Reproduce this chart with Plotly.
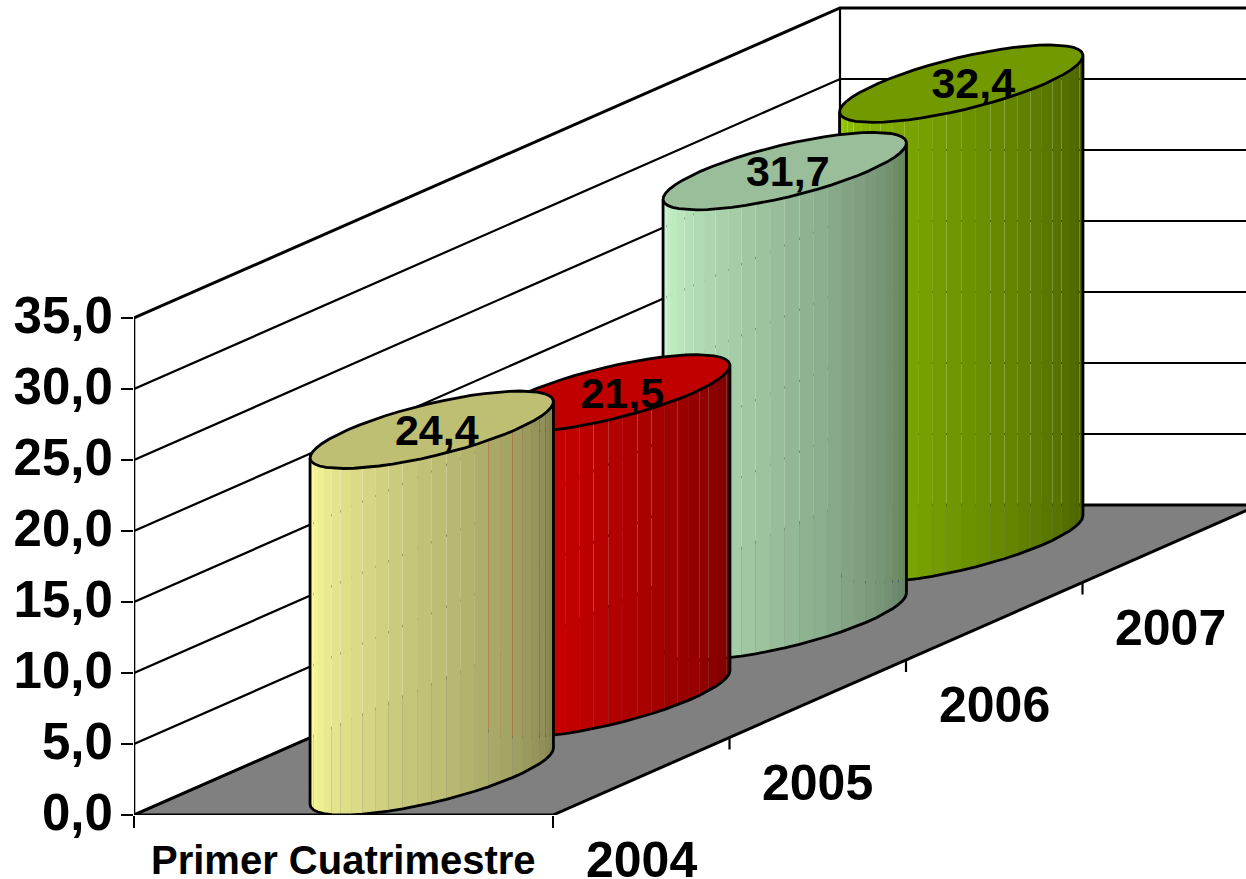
import math
import plotly.graph_objects as go

# ---- data ----
CATEGORY = "Primer Cuatrimestre"
YEARS = ["2004", "2005", "2006", "2007"]
VALUES = [24.4, 21.5, 31.7, 32.4]
Y_TICKS = [0, 5, 10, 15, 20, 25, 30, 35]

# ---- style ----
LIGHT = ["#FFFF9E", "#F40000", "#CBFBCF", "#96CC00"]
DARK = ["#7F7F4D", "#760000", "#607A60", "#465C00"]
TOPS = ["#BFBF73", "#C00000", "#9ABD9A", "#739900"]
FLOOR = "#808080"
LABEL_SHIFT_PX = [5, 14, 3, 12]
LABEL_DROP_PX = 4
FONT = "Liberation Sans, Arial, sans-serif"

W, H = 1246, 879
LEFT, BOTTOM = 134, 64
PX_U = 419.0            # pixels per unit of category span
PX_V = 14.2             # pixels per value unit
DX = 176.5 / PX_U       # depth step per year, in x units
DY = 77.5 / PX_V        # depth step per year, in y units
GAP = 1.5
STRIPS = 26
TICK = 12 / PX_V


def proj(u, d, h):
    return u + d * DX, h + d * DY


def hexrgb(c):
    return [int(c[i:i + 2], 16) for i in (1, 3, 5)]


def mix(a, b, f):
    a, b = hexrgb(a), hexrgb(b)
    return "rgb(%d,%d,%d)" % tuple(round(a[i] + (b[i] - a[i]) * f) for i in range(3))


fig = go.Figure()


def line(xs, ys, width=2.2, clip=True):
    fig.add_trace(go.Scatter(x=xs, y=ys, mode="lines", line=dict(color="black", width=width),
                             hoverinfo="skip", showlegend=False, cliponaxis=clip))


def poly(xs, ys, color, outline=0):
    fig.add_trace(go.Scatter(x=xs, y=ys, mode="lines", fill="toself", fillcolor=color,
                             line=dict(color="black" if outline else "rgba(0,0,0,0)", width=outline),
                             hoverinfo="skip", showlegend=False))


n = len(YEARS)

# floor
cx = [proj(u, d, 0)[0] for u, d in [(0, 0), (1, 0), (1, n), (0, n), (0, 0)]]
cy = [proj(u, d, 0)[1] for u, d in [(0, 0), (1, 0), (1, n), (0, n), (0, 0)]]
poly(cx, cy, FLOOR)

# wall gridlines
far = proj(1, n, 0)[0]
for t in Y_TICKS:
    a = proj(0, 0, t)
    b = proj(0, n, t)
    line([a[0], b[0], far], [a[1], b[1], b[1]], 3.0 if t == Y_TICKS[-1] else 2.2)
# back corner, axis line
b0, b1 = proj(0, n, Y_TICKS[0]), proj(0, n, Y_TICKS[-1])
line([b0[0], b1[0]], [b0[1], b1[1]])
line([0, 0], [Y_TICKS[0], Y_TICKS[-1]], 2.6, clip=False)
# floor edges
line([cx[0], cx[1], cx[2]], [cy[0], cy[1], cy[2]], 3.0, clip=False)
line([cx[0], cx[3], far], [cy[0], cy[3], cy[3]], 3.0)
# depth ticks
for i in range(1, n + 1):
    p = proj(1, i, 0)
    line([p[0], p[0]], [p[1], p[1] - TICK])

# cylinders, back to front
half_u = 0.5 / (1 + GAP)
half_v = 0.5
t0 = math.atan2(half_v * DX, half_u)


def rim(i, h, t):
    return proj(0.5 + half_u * math.cos(t), i + 0.5 + half_v * math.sin(t), h)


for i in reversed(range(n)):
    v = VALUES[i]
    step = math.pi / STRIPS
    start = t0 + math.pi
    for k in range(STRIPS):
        a, b = start + k * step, start + (k + 1) * step
        pa0, pb0 = rim(i, 0, a), rim(i, 0, b)
        pa1, pb1 = rim(i, v, a), rim(i, v, b)
        f = (k + 0.5) / STRIPS
        poly([pa0[0], pb0[0], pb1[0], pa1[0], pa0[0]],
             [pa0[1], pb0[1], pb1[1], pa1[1], pa0[1]], mix(LIGHT[i], DARK[i], f))
    # silhouette
    arc = [rim(i, 0, start + k * step) for k in range(STRIPS + 1)]
    top_l, top_r = rim(i, v, start), rim(i, v, start + math.pi)
    line([top_l[0]] + [p[0] for p in arc] + [top_r[0]],
         [top_l[1]] + [p[1] for p in arc] + [top_r[1]], 2.8)
    # top cap
    ell = [rim(i, v, 2 * math.pi * k / 52) for k in range(53)]
    poly([p[0] for p in ell], [p[1] for p in ell], TOPS[i], outline=2.8)

# value labels
fig.add_trace(go.Scatter(
    x=[proj(0.5, i + 0.5, 0)[0] + LABEL_SHIFT_PX[i] / PX_U for i in range(n)],
    y=[proj(0.5, i + 0.5, VALUES[i])[1] - LABEL_DROP_PX / PX_V for i in range(n)],
    text=[f"{v:.1f}".replace(".", ",") for v in VALUES],
    mode="text", textposition="middle center",
    textfont=dict(family=FONT, size=43, color="black", weight="bold"),
    hoverinfo="skip", showlegend=False, cliponaxis=False))

annotations = [dict(x=0.5, y=0, xref="x", yref="y", text=f"<b>{CATEGORY}</b>", showarrow=False,
                    xanchor="center", yanchor="middle", yshift=-45,
                    font=dict(family=FONT, size=40, color="black"))]
for i, yr in enumerate(YEARS):
    p = proj(1, i + 0.5, 0)
    annotations.append(dict(x=p[0], y=p[1], xref="x", yref="y", text=f"<b>{yr}</b>", showarrow=False,
                            xanchor="center", yanchor="middle", yshift=-84,
                            font=dict(family=FONT, size=50, color="black")))

fig.update_layout(
    width=W, height=H, autosize=False,
    margin=dict(l=LEFT, r=0, t=0, b=BOTTOM, pad=0),
    paper_bgcolor="white", plot_bgcolor="white",
    separators=",.",
    showlegend=False,
    annotations=annotations,
    xaxis=dict(range=[0, (W - LEFT) / PX_U], showgrid=False, zeroline=False, showline=False,
               tickmode="array", tickvals=[0, 1], ticks="outside", ticklen=12, tickwidth=2.2,
               tickcolor="black", showticklabels=False, fixedrange=True),
    yaxis=dict(range=[0, (H - BOTTOM) / PX_V], showgrid=False, zeroline=False, showline=False,
               tickmode="array", tickvals=Y_TICKS, tickformat=".1f", ticks="outside", ticklen=12,
               tickwidth=2.2, tickcolor="black", fixedrange=True,
               ticklabelstandoff=-2, ticklabelshift=-3,
               tickfont=dict(family=FONT, size=51, color="black", weight="bold")),
)

fig.write_html("out.html", config=dict(displayModeBar=False),
               post_script="document.body.style.margin='0';")
